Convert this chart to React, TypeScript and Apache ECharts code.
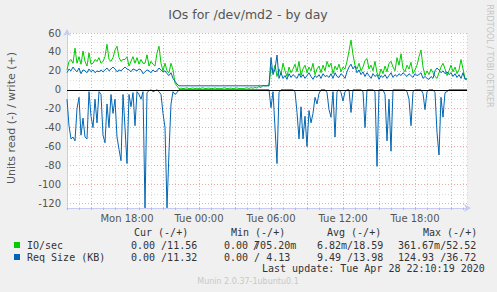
import React, { useEffect, useRef } from "react";
import * as echarts from "echarts";

// Time axis: hours counted from Mon 00:00; samples every 10 minutes starting Mon 13:00
const START_HOUR = 13;
const STEP_HOURS = 1 / 6;
const X_MIN = 13;
const X_MAX = 46 + 1 / 3;
const xTickHours = [18, 24, 30, 36, 42];
const xTickLabels = ["Mon 18:00", "Tue 00:00", "Tue 06:00", "Tue 12:00", "Tue 18:00"];

// IO/sec (write, +)
const ioWriteBusy1 = [
  21, 30, 32, 28, 44, 28, 35, 27, 41, 30, 25, 39, 27, 28, 32, 30, 34, 28, 30, 35,
  48, 32, 30, 34, 42, 46, 34, 30, 32,
  32, 35, 25, 30, 35, 28, 34, 27, 32, 28, 28, 37, 25, 30, 27, 25, 39, 46, 28, 20,
  28, 20, 18, 28, 21, 7, 4, 1,
];
const ioWriteIdle = [
  1.8, 1.2, 1.6, 2.0, 1.1, 1.5, 1.9, 1.3, 1.7, 1.0, 1.6, 2.1, 1.2, 1.5, 1.8, 1.1,
  1.4, 1.9, 1.3, 1.6, 1.0, 1.7, 2.0, 1.2, 1.5, 1.8, 1.1, 1.6, 1.9, 1.3, 1.5, 1.0,
  1.7, 2.0, 1.4, 2.2, 1.6, 2.4, 1.8, 3.5, 2.2, 4.8, 4.0, 4.5,
];
const ioWriteBusy2 = [
  5, 24, 18, 26, 14, 22, 16, 28, 20, 14,
  24, 18, 22, 27, 19, 30, 15, 22, 26, 18,
  24, 20, 28, 16, 22, 25, 18, 26, 20, 30,
  24, 28, 17, 25, 21, 27, 19, 24, 22, 30,
  41, 52.5, 37, 26, 22, 28, 20, 24, 31, 33,
  22, 26, 20, 30, 18, 14, 22, 17, 25, 19,
  28, 30, 24, 20, 34, 26, 38, 22, 19, 26,
  22, 29, 17, 21, 26, 35, 42, 24, 15, 20,
  16, 22, 18, 14, 12, 18, 24, 28, 22, 15,
  20, 26, 19, 24, 17, 21, 32, 22, 12, 11.56,
];

// Req Size (KB) (write, +)
const reqWriteBusy1 = [
  18, 22, 20, 24, 21, 19, 23, 17, 21, 20,
  18, 22, 19, 21, 18, 20, 19, 21, 19, 21,
  23, 20, 22, 24, 22, 19, 21, 20, 22, 24,
  22, 21, 19, 22, 21, 20, 22, 21, 17, 19,
  21, 20, 18, 21, 19, 20, 23, 21, 19, 20,
  17, 15, 18, 12, 9, 6, 4.2,
];
const reqWriteIdle = [
  4.2, 4.13, 4.2, 4.15, 4.2, 4.13, 4.2, 4.15, 4.13, 4.2, 4.15, 4.13, 4.2, 4.15, 4.13,
  4.2, 4.15, 4.13, 4.2, 4.13, 4.15, 4.2, 4.13, 4.15, 4.2, 4.13, 4.2, 4.15, 4.13, 4.2,
  4.15, 4.13, 4.2, 4.15, 4.13, 4.2, 4.13, 4.15, 4.2, 4.13, 4.2, 4.15, 4.2, 4.13,
];
const reqWriteBusy2 = [
  4, 34, 16, 22, 36.72, 12, 18, 12, 15, 11,
  17, 13, 16, 14, 12, 17, 13, 16, 12, 15,
  18, 14, 11, 15, 13, 16, 12, 17, 14, 15,
  13, 17, 12, 18, 14, 13, 17, 15, 12, 19,
  24, 27, 22, 25, 18, 21, 16, 19, 14, 18,
  15, 12, 17, 14, 16, 11, 15, 13, 16, 12,
  15, 18, 13, 16, 14, 17, 15, 18, 16, 14,
  17, 15, 13, 17, 15, 16, 18, 12, 14, 12,
  11, 14, 12, 20, 23, 21, 18, 20, 17, 19,
  16, 18, 14, 17, 13, 16, 12, 18, 11, 11.32,
];

// Req Size (KB) (read, drawn as -)
const reqReadBusy1 = [
  10, 38, 52, 50, 54, 20, 8, 48, 30, 50,
  52, 2, 28, 40, 10, 35, 2, 5, 48, 56,
  15, 40, 5, 25, 10, 50, 63, 75, 5,
  40, 78, 5, 18, 3, 38, 2, 5, 10, 2,
  124.93, 3, 1, 0, 2, 1, 0, 2, 5, 25,
  40, 124.9, 65, 15, 2, 5, 3, 0,
];
const reqReadIdle = [
  0, 0, 0, 0, 0, 0, 0, 0, 0, 0, 0, 0, 0, 0, 0, 0, 0, 0, 0, 0, 0, 0,
  0, 0, 0, 0, 0, 0, 0, 0, 0, 0, 0, 0, 0, 0, 0, 0, 0, 0, 0, 0, 0, 0,
];
const reqReadBusy2 = [
  0, 19, 2, 40, 78, 3, 0, 0, 0, 0,
  0, 0, 0, 2, 24, 52, 18, 52, 28, 60,
  22, 35, 25, 8, 15, 4, 0, 0, 0, 3,
  21, 29, 2, 50, 2, 0, 3, 12, 2, 0,
  0, 24, 0, 0, 0, 0, 0, 2, 40, 0,
  0, 0, 0, 2, 81, 0, 0, 0, 5, 54,
  10, 65, 0, 0, 0, 0, 0, 0, 0, 2,
  10, 38, 2, 0, 0, 0, 0, 4, 21, 2,
  0, 0, 0, 3, 45, 69, 8, 29, 3, 2,
  0, 0, 0, 0, 0, 0, 0, 0, 0, 0,
];

const ioWrite = [...ioWriteBusy1, ...ioWriteIdle, ...ioWriteBusy2];
const reqWrite = [...reqWriteBusy1, ...reqWriteIdle, ...reqWriteBusy2];
const reqRead = [...reqReadBusy1, ...reqReadIdle, ...reqReadBusy2];

// Legend table
const legendHeaders = ["Cur (-/+)", "Min (-/+)", "Avg (-/+)", "Max (-/+)"];
const legendNames = ["IO/sec", "Req Size (KB)"];
const legendColors = ["#00cc00", "#0066b3"];
const legendValues = [
  ["0.00 /11.56", "0.00 705.20m", "6.82m/18.59", "361.67m/52.52"],
  ["0.00 /11.32", "0.00 / 4.13", "9.49 /13.98", "124.93 /36.72"],
];
const lastUpdate = "Last update: Tue Apr 28 22:10:19 2020";
const muninVersion = "Munin 2.0.37-1ubuntu0.1";

const toPairs = (vals: number[], sign: number) =>
  vals.map((v, i) => [START_HOUR + i * STEP_HOURS, sign * v]);

export default function App() {
  const ref = useRef<HTMLDivElement>(null);
  useEffect(() => {
    if (!ref.current) return;
    const chart = echarts.init(ref.current, undefined, { renderer: "svg" });
    const mono = "DejaVu Sans Mono";
    const sans = "DejaVu Sans";
    const txtColor = "#333";
    const headerX = [134, 231, 327, 423];
    const valueX = [
      [131, 224, 317, 398],
      [131, 224, 317, 398],
    ];
    const rowY = [245, 257];
    const graphics: any[] = [
      {
        type: "text",
        x: 248,
        y: 14,
        style: { text: "IOs for /dev/md2 - by day", fontSize: 12.5, fontFamily: sans, fill: "#555", textAlign: "center", textVerticalAlign: "middle" },
      },
      {
        type: "text",
        x: 11,
        y: 118,
        rotation: Math.PI / 2,
        style: { text: "Units read (-) / write (+)", fontSize: 11, fontFamily: sans, fill: "#555", textAlign: "center", textVerticalAlign: "middle" },
      },
      {
        type: "text",
        x: 489,
        y: 56,
        rotation: -Math.PI / 2,
        style: { text: "RRDTOOL / TOBI OETIKER", fontSize: 8, fontFamily: sans, fill: "#c4c4c4", textAlign: "center", textVerticalAlign: "middle" },
      },
    ];
    legendHeaders.forEach((h, i) => {
      graphics.push({
        type: "text",
        x: headerX[i],
        y: 232.5,
        style: { text: h, fontSize: 10, fontFamily: mono, fill: txtColor, textAlign: "left", textVerticalAlign: "middle" },
      });
    });
    legendNames.forEach((name, r) => {
      graphics.push({
        type: "rect",
        shape: { x: 14, y: rowY[r] - 3, width: 6, height: 6 },
        style: { fill: legendColors[r] },
      });
      graphics.push({
        type: "text",
        x: 27,
        y: rowY[r],
        style: { text: name, fontSize: 10, fontFamily: mono, fill: txtColor, textAlign: "left", textVerticalAlign: "middle" },
      });
      legendValues[r].forEach((v, c) => {
        graphics.push({
          type: "text",
          x: valueX[r][c],
          y: rowY[r],
          style: { text: v, fontSize: 10, fontFamily: mono, fill: txtColor, textAlign: "left", textVerticalAlign: "middle" },
        });
      });
    });
    graphics.push({
      type: "text",
      x: 253,
      y: rowY[0],
      style: { text: "/", fontSize: 10, fontFamily: mono, fill: txtColor, textAlign: "left", textVerticalAlign: "middle" },
    });
    graphics.push({
      type: "text",
      x: 262,
      y: 268.5,
      style: { text: lastUpdate, fontSize: 10, fontFamily: mono, fill: txtColor, textAlign: "left", textVerticalAlign: "middle" },
    });
    graphics.push({
      type: "text",
      x: 248,
      y: 281,
      style: { text: muninVersion, fontSize: 8, fontFamily: sans, fill: "#c8c8c8", textAlign: "center", textVerticalAlign: "middle" },
    });

    const minor = "#dcdcdc";
    const major = "#eba9a9";
    const axisBlue = "#c8ccf4";

    chart.setOption({
      animation: false,
      backgroundColor: "#f0f0f0",
      grid: { left: 67, right: 30, top: 33, bottom: 84, show: true, backgroundColor: "#ffffff", borderWidth: 0 },
      xAxis: {
        type: "value",
        min: X_MIN,
        max: X_MAX,
        interval: 1,
        axisLine: {
          show: true,
          onZero: false,
          lineStyle: { color: axisBlue, width: 1 },
          symbol: ["none", "arrow"],
          symbolSize: [6, 7],
          symbolOffset: [0, 4],
        },
        axisTick: { show: true, length: 2, lineStyle: { color: "#bbb" } },
        axisLabel: {
          color: "#555",
          fontSize: 10,
          fontFamily: sans,
          margin: 5,
          showMaxLabel: false,
          formatter: (v: number) => {
            const i = xTickHours.indexOf(Math.round(v));
            return i >= 0 && Math.abs(v - Math.round(v)) < 1e-6 ? xTickLabels[i] : "";
          },
        },
        splitLine: { show: true, lineStyle: { color: [minor, minor, major], type: [1, 2], width: 1 } },
      },
      yAxis: {
        type: "value",
        min: -125,
        max: 60,
        interval: 5,
        axisLine: {
          show: true,
          onZero: false,
          lineStyle: { color: axisBlue, width: 1 },
          symbol: ["none", "arrow"],
          symbolSize: [6, 7],
          symbolOffset: [0, 4],
        },
        axisTick: { show: false },
        axisLabel: {
          color: "#555",
          fontSize: 10,
          fontFamily: sans,
          margin: 6,
          formatter: (v: number) => (Math.abs(v % 20) < 1e-6 ? String(v) : ""),
        },
        splitLine: {
          show: true,
          lineStyle: { color: ["rgba(0,0,0,0)", major, "rgba(0,0,0,0)", minor], type: [1, 2], width: 1 },
        },
      },
      graphic: graphics,
      series: [
        {
          type: "line",
          data: toPairs(ioWrite, 1),
          showSymbol: false,
          symbol: "none",
          lineStyle: { color: "#00cc00", width: 1 },
          itemStyle: { color: "#00cc00" },
        },
        {
          type: "line",
          data: toPairs(reqRead, -1),
          showSymbol: false,
          symbol: "none",
          lineStyle: { color: "#0066b3", width: 1 },
          itemStyle: { color: "#0066b3" },
        },
        {
          type: "line",
          data: toPairs(reqWrite, 1),
          showSymbol: false,
          symbol: "none",
          lineStyle: { color: "#0066b3", width: 1 },
          itemStyle: { color: "#0066b3" },
          markLine: {
            silent: true,
            symbol: "none",
            label: { show: false },
            lineStyle: { color: "#000", type: "solid", width: 1 },
            data: [{ yAxis: 0 }],
          },
        },
      ],
    });
    return () => chart.dispose();
  }, []);
  return <div ref={ref} style={{ width: 497, height: 292, position: "absolute", left: 0, top: 0 }} />;
}
